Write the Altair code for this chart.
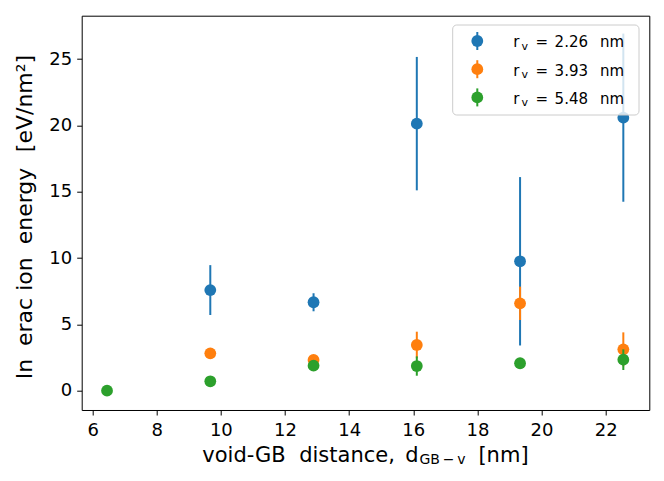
import altair as alt
import pandas as pd

# ---------------- data ----------------
x_pos = [6.45, 9.67, 12.89, 16.11, 19.33, 22.55]
radii = ["2.26", "3.93", "5.48"]
colors = ["#1f77b4", "#ff7f0e", "#2ca02c"]

blue_y = [7.59, 6.67, 20.14, 9.76, 20.59]
blue_err = [1.88, 0.68, 5.03, 6.35, 6.34]
orange_y = [2.82, 2.32, 3.45, 6.59, 3.12]
orange_err = [0.30, 0.30, 1.00, 1.26, 1.28]
green_y = [0.00, 0.71, 1.89, 1.86, 2.07, 2.34]
green_err = [0.10, 0.35, 0.35, 0.73, 0.40, 0.78]

x_ticks = [6, 8, 10, 12, 14, 16, 18, 20, 22]
y_ticks = [0, 5, 10, 15, 20, 25]

series = [
    (radii[0], x_pos[1:], blue_y, blue_err),
    (radii[1], x_pos[1:], orange_y, orange_err),
    (radii[2], x_pos, green_y, green_err),
]
rows = []
for r, xs, ys, es in series:
    for xv, yv, ev in zip(xs, ys, es):
        rows.append({"series": r, "x": xv, "y": yv, "lo": yv - ev, "hi": yv + ev})
df = pd.DataFrame(rows)

# ---------------- layout ----------------
FONT = "DejaVu Sans"
LEFT, TOP = 81.7, 15.7          # page position of the plot area
W, H = 567.6, 394.3


def px(v):
    return v - LEFT


def py(v):
    return v - TOP


xscale = alt.Scale(domain=[5.66, 23.36], nice=False, zero=False)
yscale = alt.Scale(domain=[-1.455, 28.28], nice=False, zero=False)

common_axis = dict(title=None, grid=False, domain=False, tickColor="black",
                   tickSize=5, tickWidth=1, labelFont=FONT, labelFontSize=18,
                   labelColor="black", labelFlush=False, labelOverlap=False)
xaxis = alt.Axis(values=x_ticks, labelPadding=6.5, **common_axis)
yaxis = alt.Axis(values=y_ticks, labelPadding=5, **common_axis)

layers = []
for (r, _, _, _), c in zip(series, colors):
    base = alt.Chart(df).transform_filter(alt.datum.series == r)
    err = base.mark_rule(color=c, strokeWidth=2).encode(
        x=alt.X("x:Q", scale=xscale, axis=xaxis),
        y=alt.Y("lo:Q", scale=yscale, axis=yaxis),
        y2="hi:Q",
    )
    pts = base.mark_circle(color=c, size=139, opacity=1).encode(
        x=alt.X("x:Q", scale=xscale, axis=xaxis),
        y=alt.Y("y:Q", scale=yscale, axis=yaxis),
    )
    layers += [err, pts]

dummy = pd.DataFrame({"d": [0]})

# legend box
layers.append(
    alt.Chart(dummy).mark_rect(fill="white", fillOpacity=0.8, stroke="#cccccc",
                               strokeWidth=1, cornerRadius=4).encode(
        x=alt.value(px(452.7)), x2=alt.value(px(639.0)),
        y=alt.value(py(25.0)), y2=alt.value(py(115.0)))
)


def text(t, x, y, size, align="center", angle=0):
    kw = dict(font=FONT, fontSize=size, color="black", align=align,
              baseline="alphabetic")
    if angle:
        kw["angle"] = angle
    return alt.Chart(dummy).mark_text(**kw).encode(
        x=alt.value(x), y=alt.value(y), text=alt.value(t))


for i, (r, c) in enumerate(zip(radii, colors)):
    cy = 41.0 + 28.2 * i
    bl = 47.3 + 28.2 * i
    layers.append(alt.Chart(dummy).mark_rule(color=c, strokeWidth=2).encode(
        x=alt.value(px(477.3)), y=alt.value(py(cy - 9)), y2=alt.value(py(cy + 9))))
    layers.append(alt.Chart(dummy).mark_circle(color=c, size=139, opacity=1).encode(
        x=alt.value(px(477.3)), y=alt.value(py(cy))))
    layers.append(text("r", px(516.3), py(bl), 15))
    layers.append(text("v", px(524.8), py(bl + 2.2), 11))
    layers.append(text("=", px(541.7), py(bl), 15))
    layers.append(text(r, px(571.3), py(bl), 15))
    layers.append(text("nm", px(612.0), py(bl), 15))

# x-axis title
XB = 461.5
layers.append(text("void-GB", px(244.0), py(XB), 21))
layers.append(text("distance,", px(347.0), py(XB), 21))
layers.append(text("d", px(412.0), py(XB), 21))
layers.append(text("GB\u2009\u2212\u2009v", px(442.5), py(XB + 2.0), 14))
layers.append(text("[nm]", px(503.5), py(XB), 21))

# y-axis title (rotated)
YB = 32.0
for word, cyw in [("In", 369.0), ("erac", 322.0), ("ion", 274.0),
                  ("energy", 206.0), ("[eV/nm\u00b2]", 103.5)]:
    layers.append(text(word, px(YB), py(cyw), 22, angle=270))

chart = alt.layer(*layers).properties(
    width=W, height=H,
    autosize=alt.AutoSizeParams(type="none"),
    padding={"left": LEFT - 8, "top": TOP - 8,
             "right": 648 - (LEFT - 8) - W, "bottom": 465 - (TOP - 8) - H},
).configure_view(stroke="black", strokeWidth=1)

chart.save("out.html", embed_options={"renderer": "svg", "actions": False})
